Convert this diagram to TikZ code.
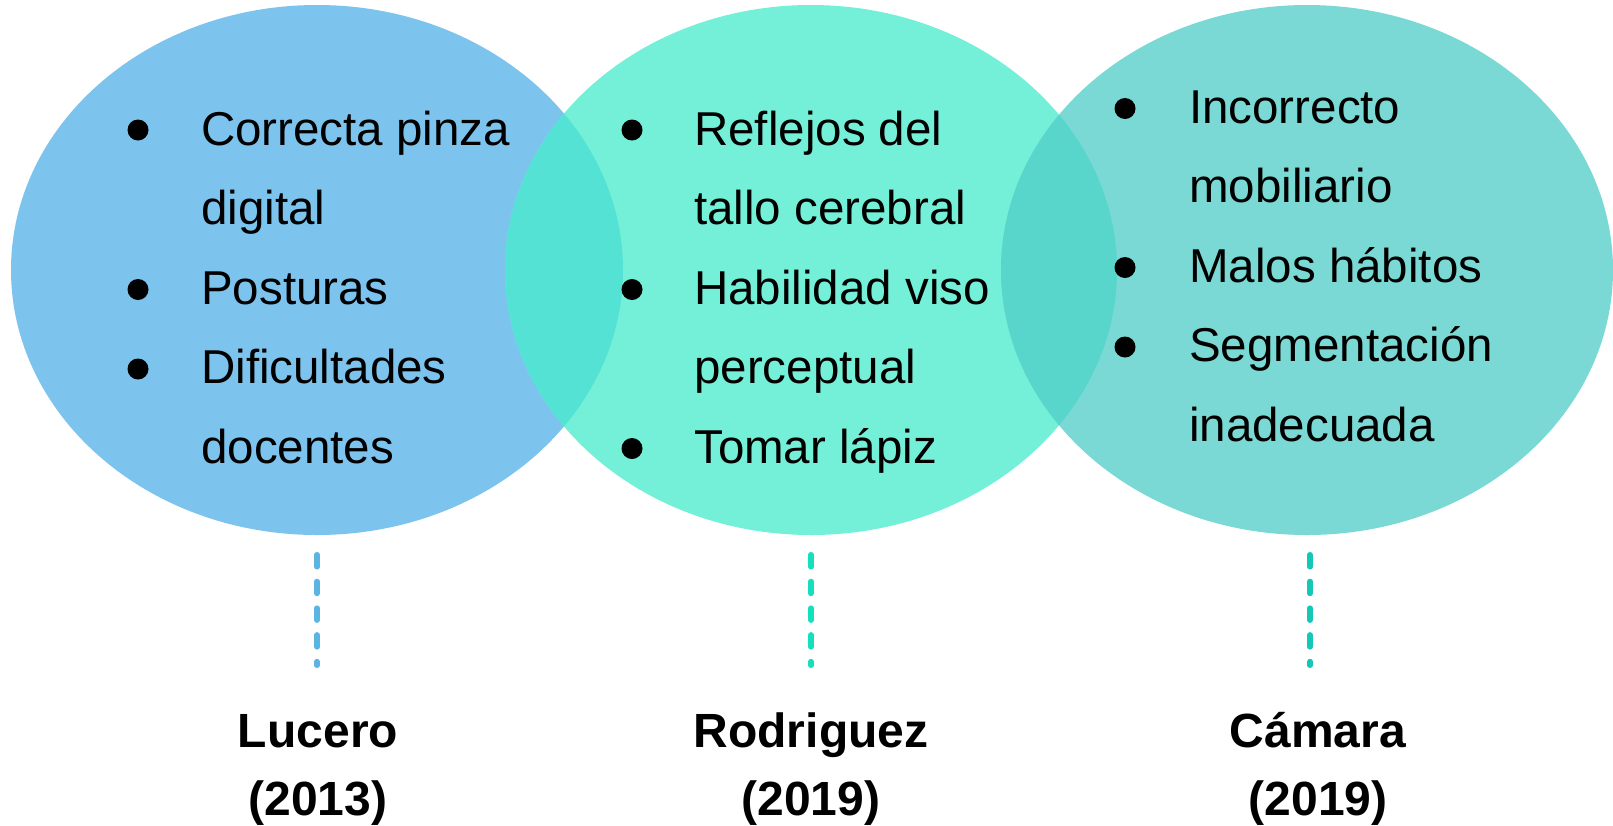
\documentclass[tikz,border=0pt]{standalone}
\usepackage{fontspec}
\setmainfont{Liberation Sans}
\definecolor{cL}{HTML}{7CC3EE}
\definecolor{cM}{HTML}{75F0D8}
\definecolor{cR}{HTML}{7AD9D4}
\definecolor{cLM}{HTML}{54E2D4}
\definecolor{cMR}{HTML}{58D6CC}
\definecolor{dL}{HTML}{5BB5E3}
\definecolor{dM}{HTML}{14E0BE}
\definecolor{dR}{HTML}{14C8B8}
\tikzset{
  txt/.style={anchor=base west, inner sep=0pt, font=\fontsize{47.5}{57}\selectfont},
  lbl/.style={anchor=base, inner sep=0pt, font=\fontsize{48}{57}\selectfont\bfseries},
  bul/.style={circle, fill=black, inner sep=0pt, minimum size=21pt},
  dashline/.style={line width=5.5pt, line cap=round, dash pattern=on 12pt off 14.7pt},
  ell/.style={x radius=306pt, y radius=265pt}
}
\begin{document}
\begin{tikzpicture}[x=1pt,y=-1pt]
\useasboundingbox (0,0) rectangle (1613,825);
% ellipses
\coordinate (cl) at (317,270);
\coordinate (cm) at (811,270);
\coordinate (cr) at (1307,270);
\fill[cL] (cl) ellipse [ell];
\fill[cM] (cm) ellipse [ell];
\fill[cR] (cr) ellipse [ell];
\begin{scope}
  \clip (cl) ellipse [ell];
  \fill[cLM] (cm) ellipse [ell];
\end{scope}
\begin{scope}
  \clip (cm) ellipse [ell];
  \fill[cMR] (cr) ellipse [ell];
\end{scope}
% left list
\node[bul] (lb1) at (138,130) {};
\node[txt] (l1) at (201,145) {Correcta pinza};
\node[txt] (l1b) at (201,224.5) {digital};
\node[bul] (lb2) at (138,289.5) {};
\node[txt] (l2) at (201,304) {Posturas};
\node[bul] (lb3) at (138,369) {};
\node[txt] (l3) at (201,383.5) {Dificultades};
\node[txt] (l3b) at (201,463) {docentes};
% middle list
\node[bul] (mb1) at (632,130) {};
\node[txt] (m1) at (694,145) {Reflejos del};
\node[txt] (m1b) at (694,224.5) {tallo cerebral};
\node[bul] (mb2) at (632,289.5) {};
\node[txt] (m2) at (694,304) {Habilidad viso};
\node[txt] (m2b) at (694,383.5) {perceptual};
\node[bul] (mb3) at (632,448.5) {};
\node[txt] (m3) at (694,463) {Tomar lápiz};
% right list
\node[bul] (rb1) at (1125,108.5) {};
\node[txt] (r1) at (1189,123) {Incorrecto};
\node[txt] (r1b) at (1189,202.5) {mobiliario};
\node[bul] (rb2) at (1125,267.5) {};
\node[txt] (r2) at (1189,282) {Malos hábitos};
\node[bul] (rb3) at (1125,347) {};
\node[txt] (r3) at (1189,361.5) {Segmentación};
\node[txt] (r3b) at (1189,441) {inadecuada};
% dashed connectors
\coordinate (tl) at (317,554.75);
\coordinate (el) at (317,665.25);
\coordinate (tm) at (811,554.75);
\coordinate (em) at (811,665.25);
\coordinate (tr) at (1310,554.75);
\coordinate (er) at (1310,665.25);
\draw[dashline, dL] (tl) -- (el);
\draw[dashline, dM] (tm) -- (em);
\draw[dashline, dR] (tr) -- (er);
% labels
\node[lbl] (n1) at (318,747) {Lucero};
\node[lbl] (y1) at (318,815) {(2013)};
\node[lbl] (n2) at (811,747) {Rodriguez};
\node[lbl] (y2) at (811,815) {(2019)};
\node[lbl] (n3) at (1318,747) {Cámara};
\node[lbl] (y3) at (1318,815) {(2019)};
\end{tikzpicture}
\end{document}
